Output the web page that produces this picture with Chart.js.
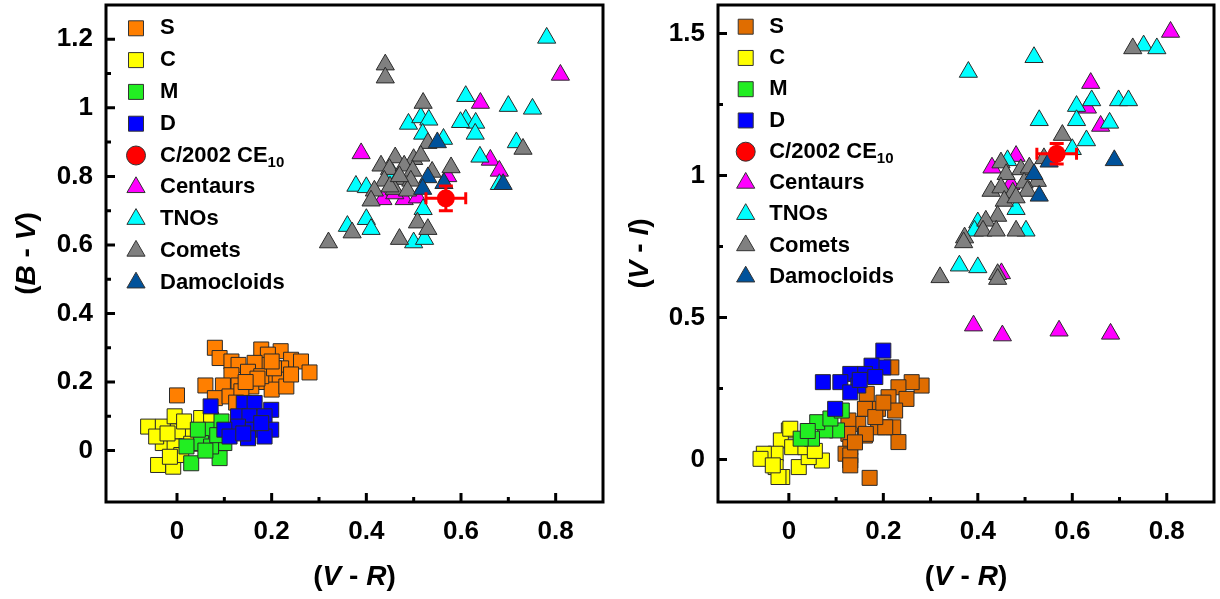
<!DOCTYPE html>
<html>
<head>
<meta charset="utf-8">
<script src="https://cdn.jsdelivr.net/npm/chart.js@4.4.1/dist/chart.umd.min.js"></script>
<style>
  html, body { margin: 0; padding: 0; background: #fff; }
  #wrap { position: relative; width: 1220px; height: 599px; }
  canvas { position: absolute; top: 0; }
  #left { left: 0; }
  #right { left: 610px; }
</style>
</head>
<body>
<div id="wrap">
  <canvas id="left" width="610" height="599"></canvas>
  <canvas id="right" width="610" height="599"></canvas>
</div>
<script>
const FONT = '"Liberation Sans", Arial, sans-serif';
const RED = '#FF0000';

// ── axes ──────────────────────────────────────────────
const xTicks = [0, 0.2, 0.4, 0.6, 0.8];
const xMinor = [0.1, 0.3, 0.5, 0.7];
const bvTicks = [0, 0.2, 0.4, 0.6, 0.8, 1, 1.2];
const bvMinor = [0.1, 0.3, 0.5, 0.7, 0.9, 1.1];
const viTicks = [0, 0.5, 1, 1.5];
const viMinor = [0.25, 0.75, 1.25];

// ── legend groups ─────────────────────────────────────
const groups = ['S', 'C', 'M', 'D', 'C/2002 CE_10', 'Centaurs', 'TNOs', 'Comets', 'Damocloids'];
const styles = ['rect', 'rect', 'rect', 'rect', 'circle', 'triangle', 'triangle', 'triangle', 'triangle'];
const fillsBV = ['#FF7F00', '#FFFF00', '#22EE22', '#0000FF', RED, '#FF00FF', '#00FFFF', '#808080', '#00529B'];
const fillsVI = ['#E06D00', '#FFFF00', '#22EE22', '#0000FF', RED, '#FF00FF', '#00FFFF', '#808080', '#00529B'];
const layer = [9, 8, 7, 6, 1, 5, 4, 3, 2];   // lower = drawn on top

// ── (V-R) vs (B-V) ────────────────────────────────────
const sBV = [[0.08,0.30],[0.09,0.27],[0.115,0.26],[0.13,0.25],[0.178,0.295],[0.219,0.29],[0.192,0.28],[0.241,0.265],
  [0.262,0.26],[0.28,0.228],[0.188,0.25],[0.22,0.24],[0.164,0.256],[0.15,0.23],[0.115,0.22],[0.097,0.19],[0.13,0.19],
  [0.06,0.19],[0.188,0.2],[0.217,0.207],[0.157,0.187],[0.2,0.178],[0.231,0.187],[0.178,0.217],[0.08,0.153],[0.111,0.158],
  [0.136,0.173],[0.0,0.161],[0.241,0.222],[0.205,0.24],[0.17,0.21],[0.145,0.2],[0.2,0.26],[0.125,0.14]];
const cBV = [[-0.061,0.07],[-0.03,0.07],[-0.005,0.10],[0.023,0.061],[0.002,0.056],[-0.03,0.022],[-0.005,0.012],
  [-0.04,-0.042],[-0.008,-0.047],[0.009,-0.013],[0.051,0.095],[0.072,0.09],[-0.044,0.041],[-0.015,-0.018],[0.03,0.02],
  [0.015,0.085],[-0.02,0.05]];
const mBV = [[0.072,0.061],[0.051,0.022],[0.02,0.012],[0.03,-0.037],[0.09,-0.022],[0.10,0.022],[0.072,0.012],
  [0.094,0.085],[0.044,0.061],[0.06,0.0],[0.085,0.045]];
const dBV = [[0.071,0.129],[0.141,0.139],[0.164,0.139],[0.199,0.119],[0.129,0.10],[0.153,0.10],[0.185,0.10],[0.129,0.07],
  [0.16,0.061],[0.199,0.061],[0.10,0.061],[0.111,0.041],[0.15,0.036],[0.185,0.041],[0.178,0.08],[0.14,0.05]];
const ce10BV = [[0.568,0.736]];
const ce10ErrBV = [0.042, 0.036];
const centaurBV = [[0.81,1.096],[0.641,1.014],[0.389,0.867],[0.662,0.848],[0.681,0.816],[0.435,0.733],[0.48,0.733],
  [0.508,0.738],[0.572,0.80],[0.46,0.75]];
const tnoBV = [[0.781,1.204],[0.61,1.034],[0.70,1.005],[0.751,0.997],[0.489,0.953],[0.515,0.972],[0.532,0.965],[0.61,0.965],
  [0.631,0.956],[0.599,0.958],[0.63,0.924],[0.519,0.924],[0.563,0.909],[0.717,0.899],[0.64,0.857],[0.681,0.777],
  [0.378,0.772],[0.40,0.768],[0.456,0.807],[0.52,0.704],[0.36,0.655],[0.40,0.675],[0.41,0.646],[0.50,0.607],[0.523,0.617]];
const cometBV = [[0.44,1.126],[0.44,1.088],[0.52,1.014],[0.53,0.897],[0.731,0.88],[0.579,0.826],[0.461,0.855],[0.431,0.831],
  [0.50,0.85],[0.515,0.86],[0.449,0.821],[0.48,0.831],[0.498,0.816],[0.539,0.813],[0.438,0.787],[0.466,0.792],[0.494,0.787],
  [0.417,0.758],[0.459,0.763],[0.41,0.729],[0.487,0.758],[0.37,0.636],[0.508,0.665],[0.53,0.646],[0.32,0.607],[0.47,0.617],
  [0.45,0.77],[0.47,0.80]];
const damoBV = [[0.55,0.899],[0.689,0.777],[0.53,0.797],[0.519,0.763],[0.564,0.78]];

// ── (V-R) vs (V-I) ────────────────────────────────────
const sVI = [[0.281,0.26],[0.26,0.272],[0.217,0.324],[0.232,0.254],[0.249,0.213],[0.211,0.219],[0.189,0.178],[0.161,0.178],
  [0.165,0.231],[0.225,0.172],[0.189,0.113],[0.221,0.113],[0.147,0.125],[0.126,0.137],[0.126,0.09],[0.161,0.084],
  [0.232,0.061],[0.13,0.043],[0.13,-0.004],[0.12,0.02],[0.171,-0.065],[0.13,0.014],[0.13,-0.021],[0.204,0.113],
  [0.183,0.149],[0.163,0.09],[0.2,0.2],[0.14,0.06]];
const cVI = [[0,0.102],[-0.017,0.067],[-0.028,0.02],[-0.053,0.02],[-0.06,0.002],[-0.028,-0.027],[0.021,-0.027],[0.07,-0.004],
  [0.042,0.008],[0.007,0.043],[0.035,0.043],[-0.014,-0.062],[-0.022,-0.062],[-0.034,-0.021],[0.003,0.108],[0.055,0.03]];
const mVI = [[0.102,0.102],[0.077,0.102],[0.049,0.073],[0.025,0.073],[0.06,0.131],[0.088,0.144],[0.112,0.172],[0.04,0.1]];
const dVI = [[0.2,0.383],[0.2,0.324],[0.175,0.33],[0.161,0.301],[0.13,0.301],[0.109,0.272],[0.072,0.272],[0.147,0.26],
  [0.13,0.236],[0.098,0.178],[0.183,0.29],[0.15,0.28]];
const ce10VI = [[0.567,1.076]];
const ce10ErrVI = [0.042, 0.036];
const centaurVI = [[0.808,1.505],[0.639,1.325],[0.632,1.238],[0.66,1.174],[0.481,1.068],[0.43,1.027],[0.47,0.969],
  [0.45,0.655],[0.391,0.471],[0.452,0.436],[0.572,0.453],[0.681,0.442]];
const tnoVI = [[0.751,1.457],[0.779,1.447],[0.519,1.416],[0.38,1.364],[0.641,1.264],[0.609,1.244],[0.698,1.264],[0.719,1.264],
  [0.53,1.194],[0.609,1.194],[0.679,1.185],[0.63,1.123],[0.60,1.092],[0.463,1.053],[0.481,0.881],[0.40,0.834],[0.502,0.805],
  [0.393,0.805],[0.361,0.682],[0.40,0.676]];
const cometVI = [[0.728,1.447],[0.579,1.142],[0.449,1.045],[0.46,1.004],[0.491,1.021],[0.509,1.027],[0.526,0.98],[0.498,0.974],
  [0.428,0.945],[0.449,0.957],[0.474,0.939],[0.505,0.945],[0.456,0.91],[0.481,0.922],[0.442,0.857],[0.417,0.84],[0.411,0.805],
  [0.439,0.805],[0.481,0.805],[0.372,0.781],[0.37,0.764],[0.32,0.641],[0.442,0.652],[0.442,0.635],[0.54,1.06]];
const damoVI = [[0.689,1.053],[0.551,1.048],[0.519,1.004],[0.53,0.928]];

const xTitle = [['(', 0], ['V', 1], [' - ', 0], ['R', 1], [')', 0]];
const bvTitle = [['(', 0], ['B', 1], [' - ', 0], ['V', 1], [')', 0]];
const viTitle = [['(', 0], ['V', 1], [' - ', 0], ['I', 1], [')', 0]];

// ── drawing helpers ───────────────────────────────────
function marker(ctx, style, x, y, r, fill, stroke, lw) {
  ctx.beginPath();
  if (style === 'rect') {
    const s = r * Math.SQRT1_2;
    ctx.rect(x - s, y - s, 2 * s, 2 * s);
  } else if (style === 'circle') {
    ctx.arc(x, y, r, 0, Math.PI * 2);
  } else {
    for (let i = 0; i < 3; i++) {
      const a = i * 2 * Math.PI / 3;
      ctx.lineTo(x + Math.sin(a) * r, y - Math.cos(a) * r);
    }
    ctx.closePath();
  }
  ctx.fillStyle = fill;
  ctx.fill();
  if (lw) { ctx.lineWidth = lw; ctx.strokeStyle = stroke; ctx.stroke(); }
}

function mixed(ctx, parts, size) {
  const fontOf = (it) => `${it ? 'italic ' : ''}bold ${size}px ${FONT}`;
  let w = 0;
  parts.forEach(([t, it]) => { ctx.font = fontOf(it); w += ctx.measureText(t).width; });
  let x = -w / 2;
  parts.forEach(([t, it]) => { ctx.font = fontOf(it); ctx.fillText(t, x, 0); x += ctx.measureText(t).width; });
}

// frame, inward ticks, axis titles and legend
const frame = {
  id: 'frame',
  afterDraw(chart, args, o) {
    const { ctx, chartArea: a, scales: { x, y } } = chart;
    ctx.save();
    ctx.strokeStyle = '#000';
    ctx.lineWidth = 3;
    ctx.beginPath();
    const xt = (list, len) => list.forEach((v) => {
      const p = x.getPixelForValue(v); ctx.moveTo(p, a.bottom); ctx.lineTo(p, a.bottom - len);
    });
    const yt = (list, len) => list.forEach((v) => {
      const p = y.getPixelForValue(v); ctx.moveTo(a.left, p); ctx.lineTo(a.left + len, p);
    });
    xt(xTicks, 9); xt(xMinor, 5);
    yt(o.yTicks, 9); yt(o.yMinor, 5);
    ctx.stroke();
    ctx.strokeRect(a.left, a.top, a.right - a.left, a.bottom - a.top);

    // titles
    ctx.fillStyle = '#000';
    ctx.textBaseline = 'middle';
    ctx.textAlign = 'left';
    ctx.save();
    ctx.translate((a.left + a.right) / 2, 577);
    mixed(ctx, xTitle, 28);
    ctx.restore();
    ctx.save();
    ctx.translate(o.yTitleX, (a.top + a.bottom) / 2);
    ctx.rotate(-Math.PI / 2);
    mixed(ctx, o.yTitle, 28);
    ctx.restore();

    // legend
    const L = o.legend;
    chart.data.datasets.forEach((ds, i) => {
      const mx = a.left + L.x, my = a.top + L.y + i * L.dy;
      const r = ds.pointStyle === 'rect' ? 10.6 : ds.pointStyle === 'circle' ? 9.5 : 10.5;
      marker(ctx, ds.pointStyle, mx, my, r, ds.backgroundColor, '#333', 1);
      const [main, sub] = ds.label.split('_');
      ctx.fillStyle = '#000';
      ctx.font = `bold 22px ${FONT}`;
      ctx.fillText(main, mx + L.tx, my);
      if (sub) {
        const w = ctx.measureText(main).width;
        ctx.font = `bold 15px ${FONT}`;
        ctx.fillText(sub, mx + L.tx + w, my + 7);
      }
    });
    ctx.restore();
  },
};

// error bars on C/2002 CE10
const errBars = {
  id: 'errBars',
  afterDatasetsDraw(chart, args, o) {
    const { ctx, scales: { x, y } } = chart;
    const [px, py] = o.point;
    const [ex, ey] = o.err;
    const cx = x.getPixelForValue(px), cy = y.getPixelForValue(py);
    const x0 = x.getPixelForValue(px - ex), x1 = x.getPixelForValue(px + ex);
    const y0 = y.getPixelForValue(py - ey), y1 = y.getPixelForValue(py + ey);
    ctx.save();
    ctx.strokeStyle = RED;
    ctx.lineWidth = 3;
    ctx.beginPath();
    ctx.moveTo(x0, cy); ctx.lineTo(x1, cy);
    ctx.moveTo(cx, y0); ctx.lineTo(cx, y1);
    ctx.moveTo(x0, cy - 6); ctx.lineTo(x0, cy + 6);
    ctx.moveTo(x1, cy - 6); ctx.lineTo(x1, cy + 6);
    ctx.moveTo(cx - 7, y0); ctx.lineTo(cx + 7, y0);
    ctx.moveTo(cx - 7, y1); ctx.lineTo(cx + 7, y1);
    ctx.stroke();
    ctx.restore();
  },
};

function datasets(series, colours) {
  return series.map((pts, i) => ({
    label: groups[i],
    data: pts.map(([x, y]) => ({ x, y })),
    backgroundColor: colours[i],
    borderColor: i === 4 ? RED : '#2a2a2a',
    borderWidth: i === 4 ? 0 : 1,
    pointStyle: styles[i],
    pointRadius: styles[i] === 'rect' ? 10.6 : styles[i] === 'circle' ? 9 : 10.5,
    order: layer[i],
  }));
}

const tickFont = { family: FONT, size: 26, weight: 'bold' };
const fmt = (v) => String(+Number(v).toFixed(2));

function panel(id, series, colours, cfg) {
  return new Chart(document.getElementById(id), {
    type: 'scatter',
    data: { datasets: datasets(series, colours) },
    options: {
      responsive: false,
      animation: false,
      events: [],
      layout: { autoPadding: false, padding: { top: 5, right: cfg.padRight, left: 0, bottom: 0 } },
      plugins: {
        legend: { display: false },
        tooltip: { enabled: false },
        frame: { yTicks: cfg.yTicks, yMinor: cfg.yMinor, yTitle: cfg.yTitle, yTitleX: cfg.yTitleX, legend: cfg.legend },
        errBars: { point: cfg.point, err: cfg.err },
      },
      scales: {
        x: {
          type: 'linear', min: -0.15, max: 0.9,
          grid: { display: false, drawTicks: false }, border: { display: false },
          afterBuildTicks: (s) => { s.ticks = xTicks.map((v) => ({ value: v })); },
          afterFit: (s) => { s.height = 97; s.paddingLeft = 0; s.paddingRight = 0; s.paddingTop = 0; s.paddingBottom = 0; },
          ticks: { font: tickFont, color: '#000', padding: 14, maxRotation: 0, autoSkip: false, callback: fmt },
        },
        y: {
          type: 'linear', min: -0.15, max: cfg.yMax,
          grid: { display: false, drawTicks: false }, border: { display: false },
          afterBuildTicks: (s) => { s.ticks = cfg.yTicks.map((v) => ({ value: v })); },
          afterFit: (s) => { s.width = cfg.yWidth; s.paddingLeft = 0; s.paddingRight = 0; s.paddingTop = 0; s.paddingBottom = 0; },
          ticks: { font: tickFont, color: '#000', padding: 13, autoSkip: false, callback: fmt },
        },
      },
    },
    plugins: [frame, errBars],
  });
}

panel('left',
  [sBV, cBV, mBV, dBV, ce10BV, centaurBV, tnoBV, cometBV, damoBV], fillsBV,
  { yMax: 1.3, yTicks: bvTicks, yMinor: bvMinor, yTitle: bvTitle, yTitleX: 27, yWidth: 106, padRight: 7,
    point: ce10BV[0], err: ce10ErrBV, legend: { x: 30, y: 23.3, dy: 31.8, tx: 24 } });

panel('right',
  [sVI, cVI, mVI, dVI, ce10VI, centaurVI, tnoVI, cometVI, damoVI], fillsVI,
  { yMax: 1.6, yTicks: viTicks, yMinor: viMinor, yTitle: viTitle, yTitleX: 30, yWidth: 108, padRight: 6,
    point: ce10VI[0], err: ce10ErrVI, legend: { x: 27.7, y: 21.7, dy: 31.25, tx: 23.5 } });
</script>
</body>
</html>
